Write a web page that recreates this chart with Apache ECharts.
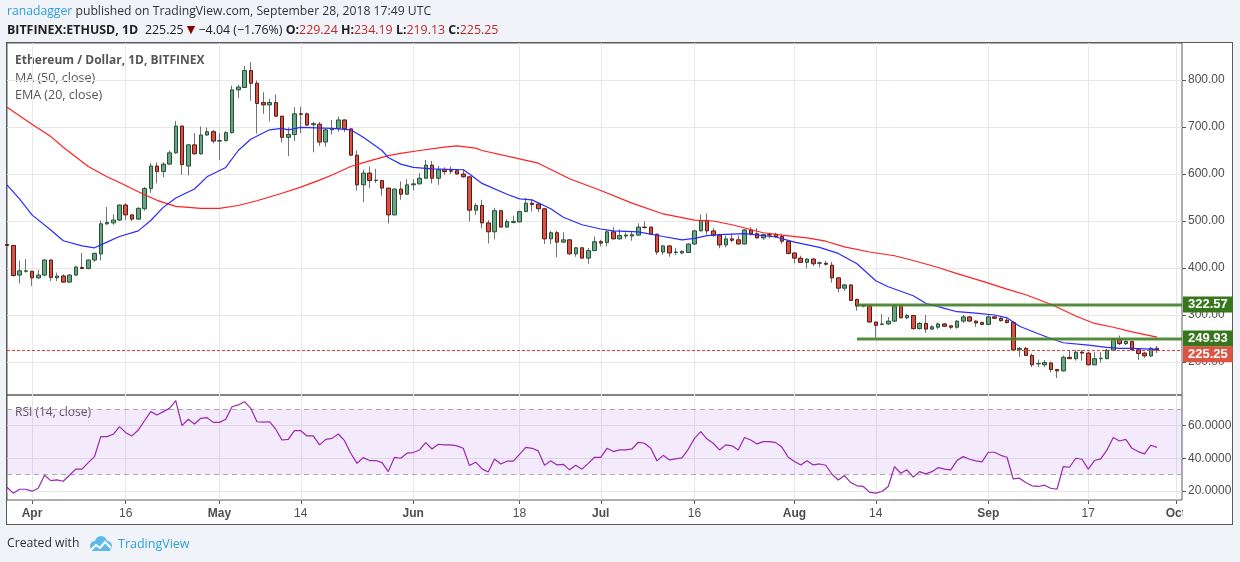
<!DOCTYPE html>
<html><head><meta charset="utf-8">
<script src="https://cdn.jsdelivr.net/npm/echarts@6/dist/echarts.min.js"></script>
<style>
html,body{margin:0;padding:0;background:#f0f3f7;width:1240px;height:562px;overflow:hidden;}
#frame{position:absolute;left:6px;top:42px;width:1227px;height:483px;box-sizing:border-box;border:1px solid #5a5a5a;background:#fff;}
#c{position:absolute;left:0;top:0;width:1240px;height:562px;}
</style>
</head><body><div id="frame"></div><div id="c"></div>
<script>
// ---- data (daily, 2018-03-28 .. 2018-09-28) ----
const opens = [
450,448,385,393,
393,379,385,417,379,383,370,385,401,399,417,430,494,496,502,534,513,504,526,569,617,605,621,645,702,617,662,643,683,690,
670,671,688,779,784,820,793,752,747,752,723,678,684,728,728,705,706,668,694,697,715,696,640,577,602,586,586,570,513,568,557,
577,579,591,619,591,609,607,607,600,594,523,533,496,477,522,487,497,498,520,538,536,526,462,475,455,460,430,443,421,437,
456,454,477,462,468,468,470,487,487,472,434,447,433,432,433,451,479,501,479,470,449,462,460,451,481,473,464,471,472,467,457,
432,421,412,419,410,410,406,379,357,364,333,319,319,285,280,281,287,319,294,299,271,282,270,274,281,277,274,287,296,287,284,
280,296,293,289,284,226,229,214,196,194,198,184,181,210,207,221,219,194,207,207,225,248,239,244,226,219,213,229.24];
const closes = [
448,384,394,394,
379,385,417,380,383,370,385,402,399,417,431,494,497,502,534,513,504,527,569,617,605,621,645,702,620,662,643,683,690,670,
671,688,779,785,820,793,750,747,752,723,678,684,728,727,704,707,668,694,697,715,696,640,577,602,586,587,570,513,568,557,577,
579,591,619,591,609,605,606,600,594,523,533,496,477,522,487,499,499,520,538,535,526,462,475,455,460,430,443,421,437,456,
453,477,462,469,470,471,487,486,472,434,447,432,434,435,451,479,501,479,470,449,462,459,451,481,473,464,471,470,467,457,431,
421,412,419,409,411,408,379,357,364,331,319,320,285,278,281,287,319,294,299,271,282,270,275,281,276,274,287,296,287,283,280,
296,293,288,284,226,229,214,194,197,199,184,181,210,207,221,219,194,207,208,225,248,239,244,226,218,213,229,225.25];
const highs = [
453,449,416,419,
394,396,419,418,390,387,387,405,432,418,433,501,530,514,535,538,514,529,572,623,625,625,650,713,703,663,687,701,699,694,
687,691,788,790,830,838,799,774,760,769,724,699,742,743,731,711,711,696,715,722,716,697,650,609,616,611,587,571,569,584,589,
589,602,630,628,617,614,616,610,610,595,538,545,502,528,523,504,511,522,549,545,540,527,479,479,476,461,444,444,443,467,
460,481,487,482,476,479,495,499,488,473,449,448,443,438,452,481,514,516,485,473,469,473,469,483,487,485,473,475,475,473,460,
433,426,421,421,414,415,413,381,366,366,335,323,320,286,302,296,321,321,303,300,285,300,278,284,283,277,289,300,298,289,286,
301,298,295,293,287,232,232,218,205,204,201,184,214,225,225,225,222,221,221,228,251,256,247,244,228,222,232,234.19];
const lows = [
444,382,367,390,
362,377,382,372,372,369,369,383,398,397,413,416,492,492,500,502,500,502,522,560,580,593,619,643,598,597,641,641,681,665,
630,669,686,761,783,756,686,728,712,722,667,638,670,687,702,646,660,658,684,690,689,639,565,540,570,581,554,495,512,545,556,
565,578,589,580,577,598,600,599,592,499,513,485,452,461,486,486,495,497,519,520,519,451,451,423,454,429,424,420,409,436,
446,446,461,460,462,458,469,484,471,428,428,424,428,429,432,449,478,471,466,442,444,455,450,450,469,463,460,463,464,451,429,
410,411,399,404,401,405,369,348,351,330,309,316,284,252,278,279,285,293,291,269,269,262,268,270,276,270,271,283,286,275,279,
279,292,286,282,225,211,213,189,189,189,178,166,180,207,203,203,193,193,199,206,223,236,236,225,204,209,210,219.13];
const rsiValues = [
22.2,18.6,21,21,
19.8,21.6,29.6,26.3,26.7,25.9,29.6,33.3,33.3,37.3,41,53.3,53.3,54.7,59.4,55.7,53.7,57.3,63,68.6,66.5,68.6,70.6,75.3,60,63.9,61,64.5,64.9,62,
62,63.9,71.6,72.7,74.7,70.6,62.4,62.2,62.4,57.8,51.2,51.6,56.9,56.9,53.7,53.7,48.2,51.6,52.2,54.9,50.8,43.1,36.9,40.4,38.6,38.6,37.3,31.8,40.6,40,43.1,
43.5,45.1,49.6,45.7,48.6,48.2,48.2,47.6,46.1,35.5,37.6,33.5,31.6,39.6,36.5,38.2,38.2,42.4,46.7,46.1,44.5,35.7,38.4,35.9,36.3,32.9,35.7,33.3,36.9,40.6,
40.6,46.1,44.1,45.1,45.1,45.7,49.8,49.2,46.1,38.4,41.8,39,39.6,40.2,45.5,52.2,56.3,51.8,49.2,45.1,48.2,47.6,45.1,52.7,51.2,48.8,50.2,50.2,49.6,46.7,40.6,
38,35.9,38.4,35.9,36.5,35.7,30.2,26.7,29.4,25.1,23.1,22.7,19.2,18.6,19.6,22.7,34.9,30.8,32.9,28.4,31.8,30.4,31.8,34.3,33.3,32.9,38.6,41,39.4,38.4,37.8,
43.7,43.7,41.8,40.6,27.3,27.8,25.1,23.1,22.7,23.5,21.6,21,34.9,34.5,40,39.4,33.3,38.6,39.6,45.1,52.7,50.6,51.6,46.1,44.1,42.7,48,46.7];
const ma50 = [['03-28',742],['04-01',706],['04-04',680],['04-06',657],['04-10',616],['04-13',594],['04-15',582],['04-19',556],['04-21',544],['04-24',531],['04-28',527],['05-01',527],['05-04',533],['05-07',543],['05-11',559],['05-14',572],['05-17',587],['05-19',598],['05-22',616],['05-25',628],['05-28',639],['05-30',644],['06-02',650],['06-06',657],['06-08',660],['06-11',655],['06-12',650],['06-18',632],['06-21',623],['06-26',590],['07-01',565],['07-06',538],['07-11',515],['07-16',502],['07-19',500],['07-22',492],['07-27',475],['07-30',470],['08-03',464],['08-06',457],['08-09',445],['08-13',434],['08-17',426],['08-20',416],['08-24',401],['08-27',388],['08-31',372],['09-04',355],['09-07',343],['09-11',323],['09-15',298],['09-18',282],['09-21',274],['09-24',264],['09-28',253]];
const ema20 = [['03-28',577],['03-30',547],['04-01',513],['04-04',481],['04-06',458],['04-09',447],['04-11',443],['04-13',455],['04-15',467],['04-18',479],['04-20',501],['04-22',529],['04-24',549],['04-27',568],['04-29',594],['05-02',614],['05-04',650],['05-06',674],['05-09',694],['05-11',697],['05-12',694],['05-14',699],['05-19',697],['05-22',694],['05-24',678],['05-27',650],['05-28',635],['05-30',621],['06-01',614],['06-04',611],['06-09',609],['06-10',600],['06-12',580],['06-16',557],['06-18',547],['06-20',545],['06-23',526],['06-25',508],['06-28',492],['07-01',483],['07-03',479],['07-07',477],['07-11',467],['07-14',460],['07-16',463],['07-18',469],['07-20',471],['07-24',473],['07-29',466],['08-01',455],['08-05',444],['08-08',431],['08-11',409],['08-14',373],['08-16',360],['08-20',341],['08-22',325],['08-25',314],['08-27',307],['08-30',304],['09-02',300],['09-04',294],['09-06',276],['09-09',260],['09-11',250],['09-13',241],['09-17',236],['09-20',231],['09-22',229],['09-24',229],['09-28',227]];
const tickDates  = ['04-01','04-16','05-01','05-14','06-01','06-18','07-01','07-16','08-01','08-14','09-01','09-17','10-01'];
const tickLabels = ['Apr','16','May','14','Jun','18','Jul','16','Aug','14','Sep','17','Oct'];
const priceTicks = [200,300,400,500,600,700,800];
const rsiTicks = [20,40,60];
const levelStart = '08-11';
const levelValues = [322.57, 249.93];
const lastClose = 225.25;

// ---- build ----
const cats = [];
for (let t = Date.UTC(2018,2,28); t <= Date.UTC(2018,9,2); t += 864e5) cats.push(new Date(t).toISOString().slice(0,10));
const ci = s => cats.indexOf('2018-' + s);
const candles = opens.map((o,i) => [o, closes[i], lows[i], highs[i]]);
const bodies = opens.map((o,i) => [o, closes[i], Math.min(o,closes[i]), Math.max(o,closes[i])]);
const tickSet = new Set(tickDates.map(d => '2018-' + d));
const isTick = (i, v) => tickSet.has(v);
const xFmt = v => { const t = tickLabels[tickDates.indexOf(v.slice(5))]; return isNaN(+t) ? '{m|' + t + '}' : '{d|' + t + '}'; };
const AX = '#4d4d4d', FR = '#5a5a5a', GL = '#e8e8e8';
const lastIdx = cats.length - 1;

const levelLines = [];
levelValues.forEach(v => {
  levelLines.push([{coord:[ci(levelStart), v], lineStyle:{color:'rgba(96,160,70,0.55)', width:4, type:'solid'}, label:{show:false}}, {coord:[lastIdx, v]}]);
  levelLines.push([{coord:[ci(levelStart), v], lineStyle:{color:'#3b7424', width:1.5, type:'solid'},
    label:{show:true, position:'end', distance:1, formatter: v.toFixed(2), color:'#fff', fontWeight:'bold', fontSize:13,
      fontFamily:'Liberation Sans', backgroundColor:'#38761d', padding:[2,5,1,5]}}, {coord:[lastIdx, v]}]);
});

const chart = echarts.init(document.getElementById('c'));
chart.setOption({
  animation:false,
  backgroundColor:'transparent',
  grid:[
    {left:7, top:43, width:1175, height:352, show:true, borderColor:FR, borderWidth:1},
    {left:7, top:395, width:1175, height:105, show:true, borderColor:FR, borderWidth:1}
  ],
  xAxis:[
    {type:'category', gridIndex:0, data:cats, boundaryGap:false, axisLine:{show:false}, axisTick:{show:false}, axisLabel:{show:false},
     splitLine:{show:true, interval:isTick, lineStyle:{color:GL}}},
    {type:'category', gridIndex:1, data:cats, boundaryGap:false, axisLine:{show:false},
     axisTick:{show:true, interval:isTick, length:4, lineStyle:{color:FR}},
     axisLabel:{interval:isTick, formatter:xFmt, margin:8,
       rich:{m:{fontWeight:'bold', color:AX, fontSize:12, fontFamily:'Liberation Sans'}, d:{color:AX, fontSize:12, fontFamily:'Liberation Sans'}}},
     splitLine:{show:true, interval:isTick, lineStyle:{color:GL}}}
  ],
  yAxis:[
    {type:'value', gridIndex:0, position:'right', min:129.8, max:878.7, axisLine:{show:false}, splitLine:{show:false},
     axisTick:{show:true, customValues:priceTicks, length:4, lineStyle:{color:FR}},
     axisLabel:{customValues:priceTicks, formatter:v => v.toFixed(2), color:AX, fontSize:12, fontFamily:'Liberation Sans', margin:6}},
    {type:'value', gridIndex:1, position:'right', min:14.4, max:78.8, axisLine:{show:false}, splitLine:{show:false},
     axisTick:{show:true, customValues:rsiTicks, length:4, lineStyle:{color:FR}},
     axisLabel:{customValues:rsiTicks, formatter:v => v.toFixed(4), color:AX, fontSize:12, fontFamily:'Liberation Sans', margin:6}}
  ],
  series:[
    {type:'line', xAxisIndex:0, yAxisIndex:0, data:[], z:0, silent:true,
     markLine:{silent:true, z:0, symbol:['none','none'], label:{show:false}, lineStyle:{color:GL, width:1, type:'solid'},
       data:priceTicks.map(v => ({yAxis:v}))}},
    {type:'line', xAxisIndex:1, yAxisIndex:1, data:[], z:0, silent:true,
     markLine:{silent:true, z:0, symbol:['none','none'], label:{show:false}, lineStyle:{color:GL, width:1, type:'solid'},
       data:rsiTicks.map(v => ({yAxis:v}))}},
    {type:'candlestick', name:'wick', xAxisIndex:0, yAxisIndex:0, data:candles, barWidth:1, z:2,
     itemStyle:{color:'#737375', color0:'#737375', borderColor:'#737375', borderColor0:'#737375', borderWidth:1}},
    {type:'candlestick', name:'ETHUSD', xAxisIndex:0, yAxisIndex:0, data:bodies, barWidth:4, z:3,
     itemStyle:{color:'#6ba583', color0:'#d75442', borderColor:'#225437', borderColor0:'#5b1a13', borderWidth:1}},
    {type:'line', name:'MA 50', xAxisIndex:0, yAxisIndex:0, data:ma50.map(p => [ci(p[0]), p[1]]), symbol:'none', z:4, clip:false,
     lineStyle:{color:'#ff2020', width:1.2},
     markLine:{silent:true, symbol:['none','none'], z:5, lineStyle:{type:'solid'}, data:levelLines.concat([
       {yAxis:lastClose, lineStyle:{color:'#e53935', width:1, type:[3,2]},
        label:{show:true, position:'end', distance:1, formatter:lastClose.toFixed(2), color:'#fff', fontWeight:'bold', fontSize:13,
          fontFamily:'Liberation Sans', backgroundColor:'#db5545', padding:[2,5,1,5], offset:[0,4]}}])}},
    {type:'line', name:'EMA 20', xAxisIndex:0, yAxisIndex:0, data:ema20.map(p => [ci(p[0]), p[1]]), symbol:'none', z:4,
     lineStyle:{color:'#2a2aff', width:1.2}},
    {type:'line', name:'RSI', xAxisIndex:1, yAxisIndex:1, data:rsiValues, symbol:'none', z:3,
     lineStyle:{color:'#9c27b0', width:1.2},
     markArea:{silent:true, z:1, itemStyle:{color:'rgba(149,60,230,0.11)'}, data:[[{yAxis:30},{yAxis:70}]]},
     markLine:{silent:true, z:2, symbol:['none','none'], label:{show:false}, lineStyle:{color:'#b4a4b9', width:1, type:[5,4]},
       data:[{yAxis:70},{yAxis:30}]}}
  ],
  graphic:[
    {type:'text', x:7, y:12, style:{text:'{u|ranadagger}{t| published on TradingView.com, September 28, 2018 17:49 UTC}', verticalAlign:'middle',
      rich:{u:{fill:'#2e9fd8', fontSize:12.2, fontFamily:'Open Sans'}, t:{fill:'#333', fontSize:12.2, fontFamily:'Open Sans'}}}},
    {type:'text', x:7, y:30, style:{text:'{b|BITFINEX:ETHUSD, 1D}  {n|225.25 }{tri|▼}{n| −4.04 (−1.76%) }{b|O:}{r|229.24 }{b|H:}{r|234.19 }{b|L:}{r|219.13 }{b|C:}{r|225.25}', verticalAlign:'middle',
      rich:{b:{fill:'#222', fontSize:12.4, fontWeight:'bold', fontFamily:'Open Sans'}, n:{fill:'#222', fontSize:12.4, fontFamily:'Open Sans'},
        tri:{fill:'#8b0000', fontSize:11, fontFamily:'DejaVu Sans'}, r:{fill:'#c0282d', fontSize:12.4, fontFamily:'Open Sans'}}}},
    {type:'text', x:15, y:61, style:{text:'Ethereum / Dollar, 1D, BITFINEX', fill:'#555', fontSize:12, fontWeight:'bold', fontFamily:'Open Sans', verticalAlign:'middle'}},
    {type:'text', x:15, y:78, style:{text:'MA (50, close)', fill:'#555', fontSize:12.5, fontFamily:'Open Sans', verticalAlign:'middle'}},
    {type:'text', x:15, y:95, style:{text:'EMA (20, close)', fill:'#555', fontSize:12.5, fontFamily:'Open Sans', verticalAlign:'middle'}},
    {type:'text', x:15, y:413, style:{text:'RSI (14, close)', fill:'#555', fontSize:12, fontFamily:'Open Sans', verticalAlign:'middle'}},
    {type:'rect', shape:{x:1183, y:501, width:49, height:23}, style:{fill:'#fff'}, z:100},
    {type:'text', x:7, y:544, style:{text:'Created with', fill:'#333', fontSize:12.2, fontFamily:'Open Sans', verticalAlign:'middle'}},
    {type:'group', x:88, y:536, children:[
      {type:'circle', shape:{cx:7, cy:10, r:5}, style:{fill:'#5fb8ea'}},
      {type:'circle', shape:{cx:13, cy:6, r:6}, style:{fill:'#5fb8ea'}},
      {type:'circle', shape:{cx:19, cy:10, r:5}, style:{fill:'#5fb8ea'}},
      {type:'rect', shape:{x:4, y:10, width:18, height:5}, style:{fill:'#5fb8ea'}},
      {type:'polyline', shape:{points:[[3,14],[8,9],[12,12],[17,6],[23,12]]}, style:{stroke:'#fff', lineWidth:2, fill:null}}
    ]},
    {type:'text', x:118, y:544, style:{text:'TradingView', fill:'#2e9fd8', fontSize:12.5, fontFamily:'Open Sans', verticalAlign:'middle'}}
  ]
});
</script>
</body></html>
